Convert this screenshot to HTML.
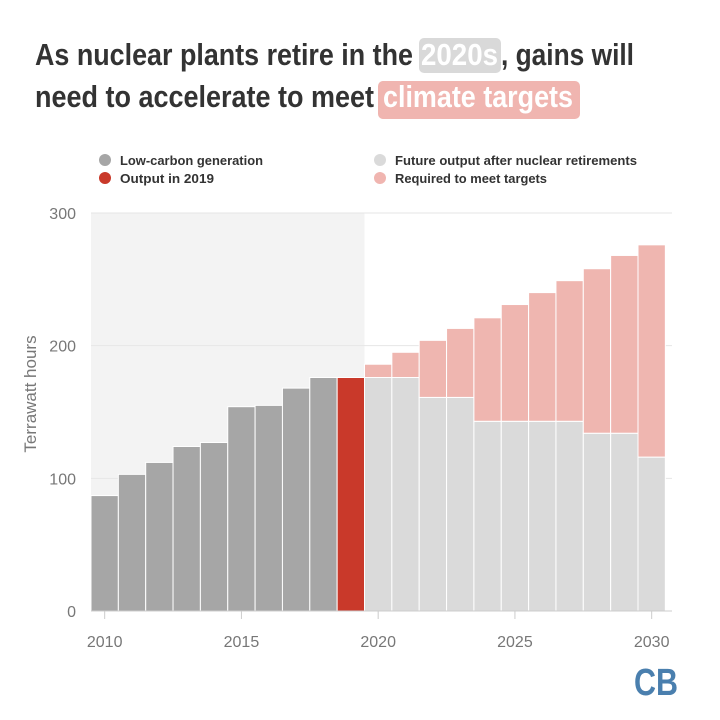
<!DOCTYPE html>
<html><head><meta charset="utf-8"><style>
body{margin:0;background:#fff;}
svg{display:block;font-family:"Liberation Sans Narrow","Liberation Sans",sans-serif;}
</style></head><body>
<svg width="720" height="720" viewBox="0 0 720 720">
<g font-weight="bold" font-size="31" fill="#333">
<rect x="419" y="38" width="82" height="35" rx="5" fill="#d9d9d9"/>
<rect x="378" y="81" width="202" height="38" rx="5" fill="#f0b5b0"/>
<text x="35" y="65" textLength="378" lengthAdjust="spacingAndGlyphs">As nuclear plants retire in the</text>
<text x="421" y="65" textLength="77" lengthAdjust="spacingAndGlyphs" fill="#fff">2020s</text>
<text x="501" y="65" textLength="133" lengthAdjust="spacingAndGlyphs">, gains will</text>
<text x="35" y="107" textLength="339" lengthAdjust="spacingAndGlyphs">need to accelerate to meet</text>
<text x="383" y="107" textLength="190" lengthAdjust="spacingAndGlyphs" fill="#fff">climate targets</text>
</g>
<g font-size="13" font-weight="bold" fill="#333">
<circle cx="105" cy="160" r="6" fill="#a6a6a6"/><text x="120" y="165" textLength="143" lengthAdjust="spacingAndGlyphs">Low-carbon generation</text>
<circle cx="105" cy="178" r="6" fill="#c9392a"/><text x="120" y="183" textLength="94" lengthAdjust="spacingAndGlyphs">Output in 2019</text>
<circle cx="380" cy="160" r="6" fill="#dadada"/><text x="395" y="165" textLength="242" lengthAdjust="spacingAndGlyphs">Future output after nuclear retirements</text>
<circle cx="380" cy="178" r="6" fill="#f0b5b0"/><text x="395" y="183" textLength="152" lengthAdjust="spacingAndGlyphs">Required to meet targets</text>
</g>
<g id="plot"></g>
<text transform="translate(36,394) rotate(-90)" text-anchor="middle" font-family="Liberation Sans, sans-serif" font-size="17" fill="#777">Terrawatt hours</text>
<g font-family="Liberation Sans, sans-serif" font-weight="bold" font-size="38" fill="#4a7fae"><text x="634" y="695" textLength="44" lengthAdjust="spacingAndGlyphs">CB</text></g>
</svg>
<script>
const years=[2010,2011,2012,2013,2014,2015,2016,2017,2018,2019,2020,2021,2022,2023,2024,2025,2026,2027,2028,2029,2030];
const base=[87,103,112,124,127,154,155,168,176,176,176,176,161,161,143,143,143,143,134,134,116];
const total=[87,103,112,124,127,154,155,168,176,176,186,195,204,213,221,231,240,249,258,268,276];
const yTicks=[0,100,200,300];
const xTicks=[2010,2015,2020,2025,2030];
const NS="http://www.w3.org/2000/svg";
const g=document.getElementById('plot');
const y0=611,pxPer=398/300,x0=91,bw=27.35;
const Y=v=>y0-v*pxPer;
const X=yr=>x0+(yr-2009.5)*bw;
function mk(t,a){const e=document.createElementNS(NS,t);for(const k in a)e.setAttribute(k,a[k]);g.appendChild(e);return e;}
let bg=mk('rect',{x:X(2009.5),y:Y(300),width:X(2019.5)-X(2009.5),height:Y(0)-Y(300),fill:'#f3f3f3'});


yTicks.forEach(t=>{
 const l=mk('line',{x1:X(2009.5),x2:672,y1:Y(t),y2:Y(t),stroke:'#e6e6e6','stroke-width':1});
 
 
 const tx=mk('text',{x:76,y:Y(t)+6,'text-anchor':'end','font-family':'Liberation Sans, sans-serif','font-size':16,fill:'#777'});
 tx.textContent=t;
 
 
});
years.forEach((yr,i)=>{
 const xl=X(yr-0.5);
 const c=yr<2019?'#a6a6a6':(yr==2019?'#c9392a':'#dadada');
 const b=mk('rect',{x:xl,y:Y(base[i]),width:bw,height:Y(0)-Y(base[i]),fill:c,stroke:'#fff','stroke-width':1});
 
 
 if(total[i]>base[i]){
  const r=mk('rect',{x:xl,y:Y(total[i]),width:bw,height:Y(base[i])-Y(total[i]),fill:'#efb6b0',stroke:'#fff','stroke-width':1});
  
  
 }
});
const ax=mk('line',{x1:X(2009.5),x2:672,y1:y0,y2:y0,stroke:'#ccc','stroke-width':1});


xTicks.forEach(t=>{
 const tk=mk('line',{x1:X(t),x2:X(t),y1:y0,y2:y0+8,stroke:'#ccc'});
 
 
 const tx=mk('text',{x:X(t),y:647,'text-anchor':'middle','font-family':'Liberation Sans, sans-serif','font-size':16,fill:'#777'});
 tx.textContent=t;
 
 
});
</script>
</body></html>
